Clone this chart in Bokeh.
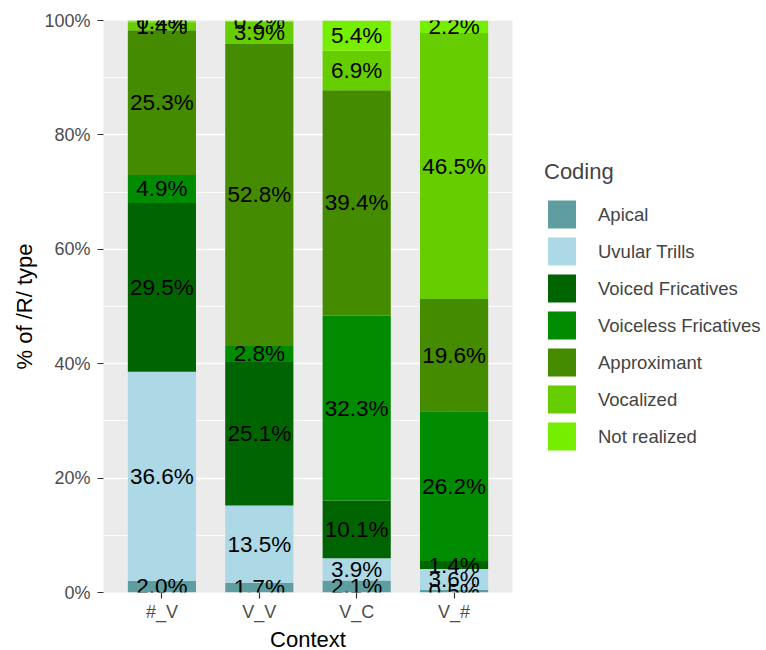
import numpy as np
from bokeh.plotting import figure
from bokeh.models import (FactorRange, FixedTicker, PrintfTickFormatter, Legend,
                          LegendItem, ColumnDataSource)
from bokeh.core.properties import value
from bokeh.embed import file_html
from bokeh.resources import INLINE

contexts = ["#_V", "V_V", "V_C", "V_#"]
codings = ["Apical", "Uvular Trills", "Voiced Fricatives", "Voiceless Fricatives",
           "Approximant", "Vocalized", "Not realized"]
colors = ["#5F9EA0", "#ADD8E6", "#006400", "#008B00", "#458B00", "#66CD00", "#76EE00"]

apical = [2.0, 1.7, 2.1, 0.5]
uvular_trills = [36.6, 13.5, 3.9, 3.6]
voiced_fricatives = [29.5, 25.1, 10.1, 1.4]
voiceless_fricatives = [4.9, 2.8, 32.3, 26.2]
approximant = [25.3, 52.8, 39.4, 19.6]
vocalized = [1.4, 3.9, 6.9, 46.5]
not_realized = [0.4, 0.2, 5.4, 2.2]

series = [apical, uvular_trills, voiced_fricatives, voiceless_fricatives,
          approximant, vocalized, not_realized]

FONT = "Liberation Sans"

p = figure(x_range=FactorRange(factors=contexts, range_padding=0.05),
           y_range=(0, 100), frame_width=409, frame_height=572,
           min_border_left=103, min_border_top=20, min_border_bottom=58,
           min_border_right=10,
           output_backend="svg", toolbar_location=None,
           background_fill_color="#EBEBEB", border_fill_color="white")
p.outline_line_color = None

vals = np.array(series, dtype=float)  # shape (codings, contexts)
tops = np.cumsum(vals, axis=0)
bottoms = tops - vals
mids = (tops + bottoms) / 2

items = []
for i, name in enumerate(codings):
    src = ColumnDataSource(dict(x=contexts, top=tops[i], bottom=bottoms[i]))
    r = p.vbar(x="x", top="top", bottom="bottom", width=0.7, source=src,
               fill_color=colors[i], line_color=None)
    items.append(LegendItem(label=name, renderers=[r]))

for i, name in enumerate(codings):
    lsrc = ColumnDataSource(dict(x=contexts, y=mids[i],
                                 t=["%.1f%%" % v for v in vals[i]]))
    p.text(x="x", y="y", text="t", source=lsrc, text_align="center",
           text_baseline="middle", text_font=value(FONT),
           text_font_size="22.5px", text_color="black")

# axes
p.yaxis.ticker = FixedTicker(ticks=[0, 20, 40, 60, 80, 100],
                             minor_ticks=[10, 30, 50, 70, 90])
p.yaxis.formatter = PrintfTickFormatter(format="%d%%")
for ax in (p.xaxis[0], p.yaxis[0]):
    ax.axis_line_color = None
    ax.major_tick_line_color = "#333333"
    ax.major_tick_line_width = 1.2
    ax.major_tick_out = 6
    ax.major_tick_in = 0
    ax.minor_tick_line_color = None
    ax.major_label_text_font = FONT
    ax.major_label_text_font_size = "18px"
    ax.major_label_text_color = "#4D4D4D"
    ax.axis_label_text_font = FONT
    ax.axis_label_text_font_size = "22px"
    ax.axis_label_text_font_style = "normal"
    ax.axis_label_text_color = "black"
p.xaxis.axis_label = "Context"
p.yaxis.axis_label = "% of /R/ type"
p.xaxis.major_label_standoff = 3
p.yaxis.major_label_standoff = 7
p.xaxis.axis_label_standoff = 2
p.yaxis.axis_label_standoff = 4

p.xgrid.grid_line_color = "white"
p.xgrid.grid_line_width = 1.6
p.ygrid.grid_line_color = "white"
p.ygrid.grid_line_width = 1.6
p.ygrid.minor_grid_line_color = "white"
p.ygrid.minor_grid_line_width = 0.8
p.xgrid.level = "underlay"
p.ygrid.level = "underlay"

legend = Legend(items=items, title="Coding", location="center_left")
legend.title_text_font = FONT
legend.title_text_font_size = "22px"
legend.title_text_font_style = "normal"
legend.title_standoff = 12
legend.label_text_font = FONT
legend.label_text_font_size = "18.5px"
legend.glyph_width = 35
legend.glyph_height = 35
legend.spacing = 2
legend.label_standoff = 19
legend.padding = 0
legend.margin = 32
legend.border_line_color = None
legend.background_fill_color = "white"
p.add_layout(legend, "right")

open("out.html", "w").write(file_html(p, INLINE))
